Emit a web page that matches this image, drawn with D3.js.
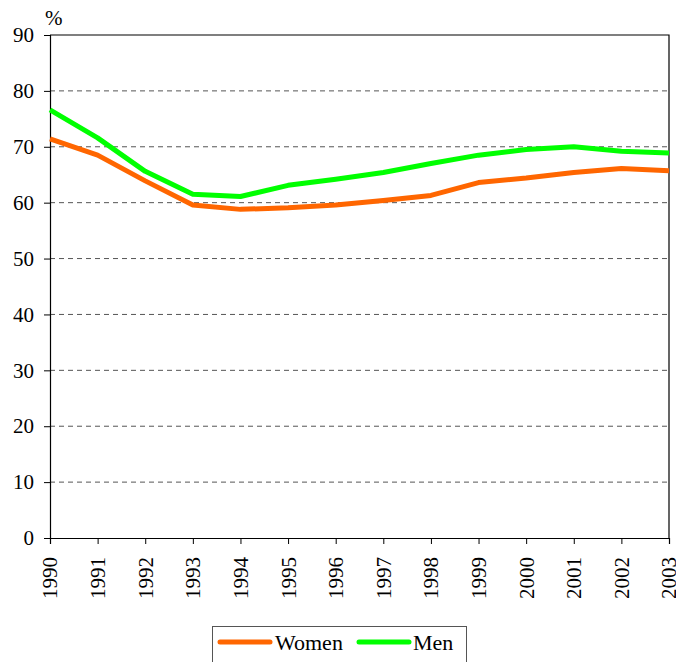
<!DOCTYPE html>
<html>
<head>
<meta charset="utf-8">
<script src="https://cdn.jsdelivr.net/npm/d3@7"></script>
</head>
<body style="margin:0;background:#fff">
<svg id="chart" width="676" height="662" style="display:block"></svg>
<script>
// Years on the horizontal axis
const years = [1990, 1991, 1992, 1993, 1994, 1995, 1996, 1997, 1998, 1999, 2000, 2001, 2002, 2003];
// Rates (%) per year
const women = [71.4, 68.5, 63.9, 59.6, 58.8, 59.1, 59.6, 60.4, 61.3, 63.6, 64.4, 65.4, 66.1, 65.7];
const men   = [76.6, 71.6, 65.6, 61.5, 61.1, 63.1, 64.2, 65.4, 67.0, 68.5, 69.5, 70.0, 69.2, 68.9];
const yTicks = [0, 10, 20, 30, 40, 50, 60, 70, 80, 90];
const seriesNames = ["Women", "Men"];
const seriesColors = ["#FF6600", "#00FF00"];

const FONT = "Liberation Serif";
const svg = d3.select("#chart").attr("font-family", FONT);
const plotL = 50, plotR = 669, plotT = 35, plotB = 538;

const x = d3.scaleLinear().domain([years[0], years[years.length - 1]]).range([plotL, plotR]);
const y = d3.scaleLinear().domain([0, 90]).range([plotB, plotT]);

// Dashed horizontal gridlines
svg.append("g")
  .selectAll("line")
  .data(yTicks.filter(t => t > 0 && t < 90))
  .join("line")
  .attr("x1", plotL).attr("x2", plotR)
  .attr("y1", d => y(d)).attr("y2", d => y(d))
  .attr("stroke", "#555")
  .attr("stroke-width", 1)
  .attr("stroke-dasharray", "5,4");

// Plot frame (top and right edges)
svg.append("path")
  .attr("d", `M${plotL},${plotT}H${plotR}V${plotB}`)
  .attr("fill", "none")
  .attr("stroke", "#000")
  .attr("stroke-width", 1.2);

// Y axis
const yAxis = svg.append("g")
  .attr("transform", `translate(${plotL},0)`)
  .call(d3.axisLeft(y).tickValues(yTicks).tickSize(6).tickPadding(10).tickFormat(d3.format("d")));
yAxis.attr("font-family", FONT);
yAxis.select(".domain").attr("stroke", "#000").attr("stroke-width", 1.2);
yAxis.selectAll(".tick line").attr("stroke", "#000");
yAxis.selectAll("text")
  .attr("font-family", FONT)
  .attr("font-size", 21)
  .attr("fill", "#000");

// X axis with vertical year labels
const xAxis = svg.append("g")
  .attr("transform", `translate(0,${plotB})`)
  .call(d3.axisBottom(x).tickValues(years).tickSize(6).tickFormat(d3.format("d")));
xAxis.attr("font-family", FONT);
xAxis.select(".domain").attr("stroke", "#000").attr("stroke-width", 1.2);
xAxis.selectAll(".tick line").attr("stroke", "#000");
xAxis.selectAll("text")
  .attr("font-family", FONT)
  .attr("font-size", 21)
  .attr("fill", "#000")
  .attr("transform", "rotate(-90)")
  .attr("text-anchor", "end")
  .attr("x", -19)
  .attr("y", 0)
  .attr("dy", "0.33em");

// Unit label
svg.append("text")
  .attr("x", 45).attr("y", 25)
  .attr("font-family", FONT)
  .attr("font-size", 21)
  .attr("fill", "#000")
  .text("%");

// Series lines
const line = d3.line().x((d, i) => x(years[i])).y(d => y(d));
[women, men].forEach((vals, k) => {
  svg.append("path")
    .datum(vals)
    .attr("fill", "none")
    .attr("stroke", seriesColors[k])
    .attr("stroke-width", 5)
    .attr("stroke-linejoin", "round")
    .attr("d", line);
});

// Legend
const lg = svg.append("g");
lg.append("rect")
  .attr("x", 212.5).attr("y", 626.5)
  .attr("width", 254).attr("height", 50)
  .attr("fill", "#fff")
  .attr("stroke", "#555")
  .attr("stroke-width", 1);
const legendItems = [
  { x1: 220, x2: 270, tx: 275 },
  { x1: 359, x2: 409, tx: 413 }
];
legendItems.forEach((it, k) => {
  lg.append("line")
    .attr("x1", it.x1).attr("x2", it.x2)
    .attr("y1", 642).attr("y2", 642)
    .attr("stroke", seriesColors[k])
    .attr("stroke-width", 5)
    .attr("stroke-linecap", "round");
  lg.append("text")
    .attr("x", it.tx).attr("y", 650)
    .attr("font-family", FONT)
    .attr("font-size", 22)
    .attr("fill", "#000")
    .text(seriesNames[k]);
});
</script>
</body>
</html>
